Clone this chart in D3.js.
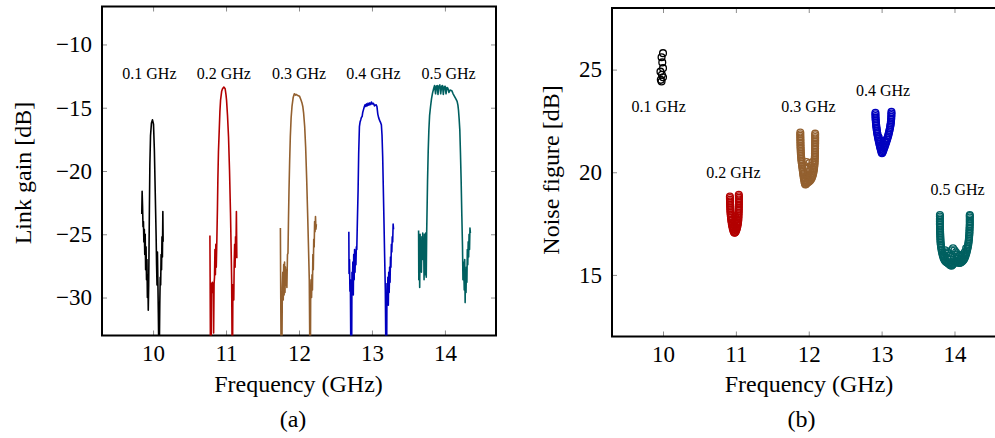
<!DOCTYPE html>
<html>
<head>
<meta charset="utf-8">
<script src="https://cdn.jsdelivr.net/npm/d3@7"></script>
<style>
  body { margin: 0; background: #fff; }
</style>
</head>
<body>
<svg id="fig" width="995" height="438"></svg>
<script>
// tick values and band names
var freqTicks = [10, 11, 12, 13, 14];
var gainTicks = [-30, -25, -20, -15, -10];
var nfTicks = [15, 20, 25];
var bandNames = ["0.1 GHz", "0.2 GHz", "0.3 GHz", "0.4 GHz", "0.5 GHz"];
var bandColors = ["#000000", "#b30000", "#93602f", "#0000bf", "#006060"];
var serif = "'Liberation Serif', 'Times New Roman', serif";

// link gain traces [GHz, dB] (values below -33 are off-axis)
var gain01 = [[9.845,-23.4],[9.85,-21.6],[9.856,-22.8],[9.862,-24.4],[9.868,-24.0],[9.874,-25.6],[9.88,-24.6],[9.886,-26.6],
  [9.892,-25.0],[9.898,-27.8],[9.904,-26.0],[9.91,-28.6],[9.916,-27.0],[9.922,-30.0],[9.928,-28.2],[9.934,-31.0],[9.94,-29.0],
  [9.948,-24.0],[9.956,-19.5],[9.965,-17.2],[9.978,-16.2],[9.992,-15.96],[10.006,-16.3],[10.018,-18.4],[10.03,-21.8],
  [10.042,-25.2],[10.048,-27.4],[10.054,-29.0],[10.06,-26.4],[10.066,-28.8],[10.072,-31.2],[10.078,-34],[10.086,-34],
  [10.092,-30.5],[10.098,-28.4],[10.104,-29.0],[10.11,-26.6],[10.116,-27.8],[10.122,-25.2],[10.128,-26.8],[10.134,-23.2],[10.138,-25.6]];
var gain02 = [[10.779,-25.1],[10.782,-28.4],[10.786,-34],[10.797,-34],[10.8,-28.9],[10.806,-29.2],[10.812,-28.8],[10.818,-29.6],
  [10.824,-28.9],[10.83,-32.8],[10.836,-28.9],[10.842,-28.4],[10.848,-26.2],[10.854,-28.2],[10.86,-25.8],[10.866,-27.6],
  [10.874,-25.5],[10.882,-23.0],[10.888,-20.7],[10.896,-18.5],[10.907,-16.75],[10.916,-15.3],[10.925,-14.4],[10.94,-13.7],
  [10.952,-13.5],[10.97,-13.37],[10.988,-13.5],[11.0,-14.0],[11.007,-14.4],[11.02,-15.6],[11.034,-17.3],[11.048,-20.0],
  [11.061,-23.3],[11.07,-26.2],[11.077,-28.6],[11.083,-34],[11.09,-34],[11.094,-29.0],[11.1,-29.6],[11.106,-30.2],
  [11.112,-27.2],[11.118,-25.8],[11.124,-27.6],[11.13,-25.2],[11.136,-26.4],[11.142,-23.2],[11.148,-26.9]];
var gain03 = [[11.745,-24.5],[11.748,-28.0],[11.754,-34],[11.766,-34],[11.772,-29.2],[11.778,-28.0],[11.784,-30.2],[11.79,-27.4],
  [11.796,-29.8],[11.802,-27.2],[11.808,-29.6],[11.814,-27.6],[11.82,-29.0],[11.826,-27.8],[11.834,-29.2],[11.842,-26.6],
  [11.849,-26.5],[11.856,-23.8],[11.863,-21.5],[11.872,-19.2],[11.881,-17.3],[11.892,-15.8],[11.904,-14.9],[11.92,-14.2],
  [11.936,-13.9],[11.95,-14.0],[11.96,-13.95],[11.972,-14.0],[11.99,-14.05],[12.008,-14.1],[12.025,-14.35],[12.04,-14.6],
  [12.052,-14.9],[12.063,-15.4],[12.078,-16.5],[12.091,-18.1],[12.105,-20.6],[12.118,-23.3],[12.13,-26.0],[12.141,-28.6],
  [12.148,-34],[12.157,-34],[12.16,-29.6],[12.166,-28.6],[12.172,-30.0],[12.178,-28.2],[12.184,-29.4],[12.19,-26.6],
  [12.196,-27.8],[12.202,-25.4],[12.208,-26.0],[12.214,-24.0],[12.22,-24.8],[12.226,-23.6],[12.232,-24.6],[12.238,-24.2]];
var gain04 = [[12.683,-24.8],[12.686,-28.1],[12.692,-27.0],[12.698,-29.5],[12.704,-28.6],[12.71,-34],[12.722,-34],[12.726,-28.0],
  [12.732,-28.9],[12.738,-27.2],[12.744,-29.8],[12.75,-26.6],[12.756,-28.6],[12.762,-26.2],[12.768,-28.0],[12.774,-26.4],
  [12.78,-27.4],[12.786,-26.0],[12.792,-26.2],[12.8,-24.0],[12.81,-21.5],[12.818,-18.6],[12.828,-16.5],[12.838,-16.1],
  [12.846,-15.96],[12.856,-15.75],[12.865,-15.7],[12.874,-15.35],[12.883,-15.17],[12.896,-14.9],[12.905,-14.77],[12.915,-14.9],
  [12.925,-14.7],[12.935,-14.85],[12.947,-14.64],[12.958,-14.8],[12.97,-14.62],[12.983,-14.75],[12.993,-14.55],[13.005,-14.7],
  [13.02,-14.65],[13.035,-14.85],[13.046,-14.8],[13.058,-14.77],[13.068,-14.9],[13.08,-15.5],[13.092,-15.8],[13.105,-16.0],
  [13.12,-16.2],[13.129,-16.35],[13.138,-17.2],[13.147,-18.9],[13.156,-21.5],[13.165,-24.1],[13.174,-26.8],[13.183,-29.4],
  [13.19,-34],[13.202,-34],[13.206,-28.9],[13.212,-30.4],[13.218,-28.4],[13.224,-30.6],[13.23,-28.0],[13.236,-29.6],
  [13.242,-27.6],[13.248,-28.8],[13.254,-26.8],[13.26,-27.6],[13.266,-25.8],[13.272,-26.4],[13.278,-25.2],[13.284,-25.6],
  [13.29,-24.2],[13.296,-24.6]];
var gain05 = [[13.639,-24.7],[13.642,-28.6],[13.648,-25.4],[13.654,-29.2],[13.66,-25.0],[13.666,-27.4],[13.672,-25.6],[13.678,-28.0],
  [13.684,-25.2],[13.69,-27.0],[13.696,-24.9],[13.702,-26.6],[13.708,-25.4],[13.714,-28.6],[13.72,-25.0],[13.728,-28.2],
  [13.736,-24.9],[13.744,-28.4],[13.75,-24.8],[13.756,-22.8],[13.762,-20.7],[13.771,-18.4],[13.78,-16.75],[13.79,-15.6],
  [13.803,-14.9],[13.816,-14.3],[13.83,-13.85],[13.845,-13.5],[13.858,-13.25],[13.872,-13.9],[13.882,-13.3],[13.894,-13.25],
  [13.905,-13.95],[13.915,-13.3],[13.93,-13.2],[13.942,-13.9],[13.955,-13.3],[13.967,-13.25],[13.978,-13.95],[13.99,-13.35],
  [14.003,-13.3],[14.015,-13.9],[14.027,-13.4],[14.04,-13.45],[14.055,-13.8],[14.07,-13.6],[14.094,-13.65],[14.112,-13.9],
  [14.131,-14.1],[14.15,-14.3],[14.167,-14.5],[14.178,-14.8],[14.186,-15.2],[14.195,-15.9],[14.204,-16.75],[14.213,-18.6],
  [14.222,-20.7],[14.232,-23.6],[14.241,-26.0],[14.247,-28.6],[14.253,-27.2],[14.259,-28.0],[14.265,-29.4],[14.271,-27.0],
  [14.277,-30.4],[14.283,-27.8],[14.289,-29.6],[14.295,-27.6],[14.301,-28.8],[14.307,-26.2],[14.313,-27.4],[14.319,-25.6],
  [14.325,-26.8],[14.331,-25.0],[14.337,-26.2],[14.343,-24.5],[14.349,-24.9]];

// noise figure samples [GHz, dB]
var nf01 = [[10.0,25.8],[9.98,25.6],[9.99,25.35],[10.0,25.07],[9.965,24.9],[9.985,24.75],[10.0,24.63],[9.97,24.5],[9.98,24.42]];
var nf02 = [[10.918,18.82],[10.918,18.74],[10.919,18.66],[10.92,18.58],[10.92,18.5],[10.921,18.42],[10.922,18.34],[10.923,18.26],
  [10.924,18.18],[10.925,18.1],[10.927,18.02],[10.929,17.94],[10.931,17.86],[10.933,17.78],[10.936,17.7],[10.939,17.62],
  [10.942,17.54],[10.946,17.46],[10.95,17.38],[10.955,17.3],[10.96,17.22],[10.966,17.15],[10.973,17.09],[10.98,17.05],
  [10.988,17.06],[10.996,17.1],[11.004,17.16],[11.011,17.23],[11.017,17.31],[11.022,17.39],[11.026,17.47],[11.029,17.55],
  [11.032,17.63],[11.034,17.71],[11.035,17.79],[11.036,17.87],[11.037,17.95],[11.038,18.03],[11.039,18.11],[11.04,18.19],
  [11.04,18.27],[11.04,18.35],[11.041,18.43],[11.041,18.51],[11.041,18.59],[11.041,18.67],[11.041,18.75],[11.041,18.83],
  [11.04,18.9],[10.97,17.3],[10.99,17.35],[11.0,17.5],[10.96,17.5],[10.98,17.6],[11.01,17.7],[10.95,17.7],[10.99,17.85]];
var nf03 = [[11.884,21.93],[11.884,21.85],[11.884,21.77],[11.885,21.69],[11.885,21.61],[11.886,21.53],[11.886,21.45],[11.887,21.37],
  [11.887,21.29],[11.888,21.21],[11.889,21.13],[11.89,21.05],[11.891,20.97],[11.892,20.89],[11.894,20.81],[11.896,20.73],
  [11.898,20.65],[11.9,20.57],[11.903,20.49],[11.906,20.41],[11.909,20.33],[11.912,20.25],[11.915,20.17],[11.918,20.09],
  [11.921,20.01],[11.924,19.93],[11.927,19.85],[11.93,19.77],[11.934,19.69],[11.938,19.61],[11.942,19.53],[11.947,19.45],
  [11.953,19.4],[11.962,19.42],[11.972,19.47],[11.984,19.5],[11.996,19.53],[12.008,19.56],[12.02,19.6],[12.032,19.66],
  [12.042,19.72],[12.05,19.8],[12.057,19.88],[12.062,19.96],[12.066,20.04],[12.07,20.12],[12.073,20.2],[12.076,20.28],
  [12.078,20.36],[12.08,20.44],[12.081,20.52],[12.082,20.6],[12.083,20.68],[12.084,20.76],[12.085,20.84],[12.085,20.92],
  [12.086,21.0],[12.086,21.08],[12.087,21.16],[12.087,21.24],[12.087,21.32],[12.088,21.4],[12.088,21.48],[12.088,21.56],
  [12.088,21.64],[12.088,21.72],[12.088,21.8],[12.088,21.88],[11.96,19.6],[11.99,19.7],[12.02,19.8],[12.04,19.95],
  [11.95,19.75],[11.98,19.9],[12.05,20.15],[11.94,19.95],[11.95,20.3],[11.99,20.2],[12.03,20.3],[11.97,20.5],[12.01,20.45],
  [12.05,20.5],[12.0,20.0]];
var nf04 = [[12.915,22.9],[12.915,22.82],[12.916,22.74],[12.917,22.66],[12.918,22.58],[12.92,22.5],[12.922,22.42],[12.924,22.34],
  [12.926,22.26],[12.929,22.18],[12.932,22.1],[12.935,22.02],[12.938,21.94],[12.942,21.86],[12.946,21.78],[12.95,21.7],
  [12.955,21.62],[12.96,21.54],[12.965,21.46],[12.97,21.38],[12.975,21.3],[12.98,21.22],[12.986,21.14],[12.992,21.06],
  [12.998,20.98],[13.005,20.93],[13.012,20.96],[13.019,21.02],[13.027,21.1],[13.035,21.18],[13.043,21.26],[13.051,21.34],
  [13.059,21.42],[13.066,21.5],[13.073,21.58],[13.08,21.66],[13.087,21.74],[13.093,21.82],[13.099,21.9],[13.104,21.98],
  [13.109,22.06],[13.114,22.14],[13.118,22.22],[13.122,22.3],[13.125,22.38],[13.128,22.46],[13.13,22.54],[13.132,22.62],
  [13.133,22.7],[13.134,22.78],[13.135,22.86],[13.135,22.94],[12.98,21.5],[13.0,21.3],[13.02,21.4],[13.04,21.55],
  [13.0,21.15],[12.96,21.7]];
var nf05 = [[13.8,17.92],[13.8,17.84],[13.8,17.76],[13.8,17.68],[13.8,17.6],[13.8,17.52],[13.8,17.44],[13.801,17.36],
  [13.801,17.28],[13.802,17.2],[13.802,17.12],[13.803,17.04],[13.804,16.96],[13.805,16.88],[13.806,16.8],[13.807,16.72],
  [13.808,16.64],[13.81,16.56],[13.812,16.48],[13.815,16.4],[13.818,16.32],[13.822,16.24],[13.826,16.16],[13.831,16.08],
  [13.836,16.0],[13.842,15.92],[13.849,15.84],[13.857,15.77],[13.866,15.71],[13.876,15.66],[13.887,15.63],[13.899,15.6],
  [13.911,15.57],[13.923,15.54],[13.935,15.5],[13.947,15.47],[13.959,15.45],[13.971,15.48],[13.983,15.53],[13.995,15.59],
  [14.007,15.64],[14.019,15.67],[14.031,15.66],[14.043,15.62],[14.055,15.59],[14.067,15.58],[14.079,15.59],[14.091,15.62],
  [14.103,15.65],[14.115,15.69],[14.126,15.74],[14.136,15.8],[14.145,15.87],[14.153,15.95],[14.16,16.03],[14.166,16.11],
  [14.172,16.19],[14.177,16.27],[14.182,16.35],[14.186,16.43],[14.19,16.51],[14.193,16.59],[14.196,16.67],[14.198,16.75],
  [14.2,16.83],[14.202,16.91],[14.204,16.99],[14.205,17.07],[14.206,17.15],[14.207,17.23],[14.208,17.31],[14.209,17.39],
  [14.21,17.47],[14.21,17.55],[14.21,17.63],[14.21,17.71],[14.21,17.79],[14.21,17.87],[14.21,17.92],
  [13.86,15.95],[13.88,16.05],[13.9,16.1],[13.92,16.05],[13.94,15.95],[13.96,16.2],[13.98,16.3],[14.0,16.2],[14.02,16.1],
  [14.04,16.0],[14.06,15.9],[14.08,15.95],[14.1,15.9],[14.12,16.0],[13.9,15.82],[13.95,15.75],[14.0,15.85],[14.05,15.8],
  [14.1,15.78],[13.87,16.2],[14.14,16.1],[14.16,16.3]];

// where the band names sit (data coords, text baseline)
var gainLabelAt = [[9.95,-12.7],[10.97,-12.7],[12.0,-12.7],[13.02,-12.7],[14.05,-12.7]];
var nfLabelAt = [[9.94,22.94],[10.966,19.73],[11.996,22.94],[13.02,23.72],[14.043,18.9]];

var gainSeries = [gain01, gain02, gain03, gain04, gain05];
var nfSeries = [nf01, nf02, nf03, nf04, nf05];

var svg = d3.select("#fig");

// left panel scales
var xA = d3.scaleLinear().domain([9.3, 14.7]).range([102, 496]);
var yA = d3.scaleLinear().domain([-33, -7]).range([335.5, 6.5]);
// right panel scales (right edge runs past the page)
var xB = d3.scaleLinear().domain([9.3, 14.7]).range([612, 1005.5]);
var yB = d3.scaleLinear().domain([12, 28]).range([336.5, 8]);

function styleAxis(g, showText) {
  g.attr("font-family", null).attr("font-size", null);
  g.select(".domain").remove();
  g.selectAll(".tick line").attr("stroke", "#808080").attr("stroke-width", 0.9);
  g.selectAll(".tick text")
    .style("font-family", serif)
    .style("font-size", "23px")
    .attr("fill", "#000");
  if (!showText) g.selectAll(".tick text").remove();
}

function drawAxes(x, y, yTicks, id) {
  var x0 = x.range()[0], x1 = x.range()[1];
  var y0 = y.range()[0], y1 = y.range()[1];

  svg.append("g").attr("transform", "translate(0," + y0 + ")")
    .call(d3.axisBottom(x).tickValues(freqTicks).tickSize(-5).tickPadding(9).tickFormat(d3.format("d")))
    .call(styleAxis, true);
  svg.append("g").attr("transform", "translate(0," + y1 + ")")
    .call(d3.axisTop(x).tickValues(freqTicks).tickSize(-5).tickFormat(""))
    .call(styleAxis, false);
  svg.append("g").attr("transform", "translate(" + x0 + ",0)")
    .call(d3.axisLeft(y).tickValues(yTicks).tickSize(-5).tickPadding(10).tickFormat(d3.format("d")))
    .call(styleAxis, true);
  svg.append("g").attr("transform", "translate(" + x1 + ",0)")
    .call(d3.axisRight(y).tickValues(yTicks).tickSize(-5).tickFormat(""))
    .call(styleAxis, false);

  svg.append("rect")
    .attr("x", x0).attr("y", y1)
    .attr("width", x1 - x0).attr("height", y0 - y1)
    .attr("fill", "none").attr("stroke", "#000").attr("stroke-width", 2);

  svg.append("clipPath").attr("id", id)
    .append("rect")
    .attr("x", x0).attr("y", y1)
    .attr("width", x1 - x0).attr("height", y0 - y1);
}

// ---- panel (a): link gain ----
drawAxes(xA, yA, gainTicks, "clipA");

var line = d3.line()
  .x(function(d) { return xA(d[0]); })
  .y(function(d) { return yA(d[1]); });

svg.append("g").attr("clip-path", "url(#clipA)")
  .selectAll("path")
  .data(gainSeries)
  .enter()
  .append("path")
    .attr("d", line)
    .attr("fill", "none")
    .attr("stroke", function(d, i) { return bandColors[i]; })
    .attr("stroke-width", 1.6)
    .attr("stroke-linejoin", "round");

svg.selectAll(".lblA")
  .data(gainLabelAt)
  .enter()
  .append("text")
    .attr("class", "lblA")
    .attr("x", function(d) { return xA(d[0]); })
    .attr("y", function(d) { return yA(d[1]); })
    .attr("text-anchor", "middle")
    .style("font-family", serif)
    .style("font-size", "16px")
    .text(function(d, i) { return bandNames[i]; });

// ---- panel (b): noise figure ----
drawAxes(xB, yB, nfTicks, "clipB");

var markers = svg.append("g").attr("clip-path", "url(#clipB)");
nfSeries.forEach(function(series, i) {
  markers.selectAll(".m" + i)
    .data(series)
    .enter()
    .append("circle")
      .attr("class", "m" + i)
      .attr("cx", function(d) { return xB(d[0]); })
      .attr("cy", function(d) { return yB(d[1]); })
      .attr("r", 3.4)
      .attr("fill", "none")
      .attr("stroke", bandColors[i])
      .attr("stroke-width", 1.3);
});

svg.selectAll(".lblB")
  .data(nfLabelAt)
  .enter()
  .append("text")
    .attr("class", "lblB")
    .attr("x", function(d) { return xB(d[0]); })
    .attr("y", function(d) { return yB(d[1]); })
    .attr("text-anchor", "middle")
    .style("font-family", serif)
    .style("font-size", "16px")
    .text(function(d, i) { return bandNames[i]; });

// ---- axis titles and captions ----
function title(x, y, txt, rotate) {
  var t = svg.append("text")
    .attr("text-anchor", "middle")
    .style("font-family", serif)
    .style("font-size", "24px")
    .text(txt);
  if (rotate) t.attr("transform", "translate(" + x + "," + y + ") rotate(-90)");
  else t.attr("x", x).attr("y", y);
}

title(298.5, 392, "Frequency (GHz)");
title(809, 392, "Frequency (GHz)");
title(31, 173, "Link gain [dB]", true);
title(559, 170, "Noise figure [dB]", true);
title(293, 427, "(a)");
title(801.5, 427, "(b)");
</script>
</body>
</html>
